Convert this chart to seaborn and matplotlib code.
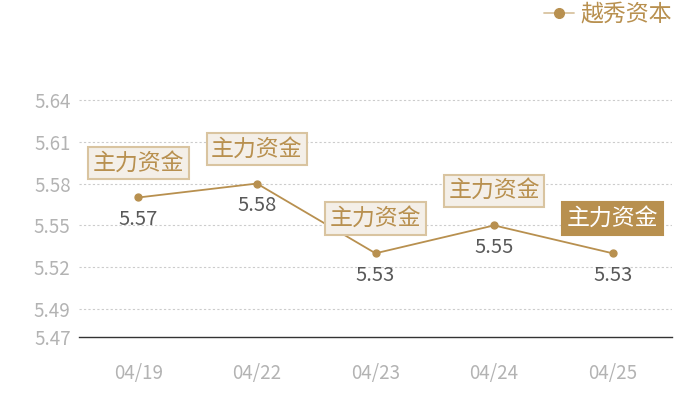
import pandas as pd
import matplotlib
matplotlib.use("Agg")
import matplotlib.pyplot as plt
import seaborn as sns

dates = ["04/19", "04/22", "04/23", "04/24", "04/25"]
prices = [5.57, 5.58, 5.53, 5.55, 5.53]
series_name = "越秀资本"
tag_text = "主力资金"
y_ticks = [5.47, 5.49, 5.52, 5.55, 5.58, 5.61, 5.64]

gold = "#b8904f"
grey_tick = "#b3b3b3"

sns.set_theme(style="white")
plt.rcParams["font.family"] = ["Noto Sans CJK SC", "DejaVu Sans"]

df = pd.DataFrame({"date": dates, "price": prices})

fig = plt.figure(figsize=(7, 4), dpi=100)
ax = fig.add_axes([79 / 700, 63 / 400, (672 - 79) / 700, (337 - 58) / 400])

sns.pointplot(data=df, x="date", y="price", color=gold, markers="o",
              linewidth=1.3, markersize=5, ax=ax, label=series_name)

ax.set_xlim(-0.5, 4.5)
ax.set_ylim(5.47, 5.67)
ax.set_yticks(y_ticks)
ax.set_yticklabels([f"{v:.2f}" for v in y_ticks])
for v in y_ticks[1:]:
    ax.axhline(v, color="#cccccc", linestyle=(0, (2, 2)), linewidth=0.8, zorder=0)

for s in ["top", "right", "left"]:
    ax.spines[s].set_visible(False)
ax.spines["bottom"].set_color("#333333")
ax.spines["bottom"].set_linewidth(1)
ax.tick_params(axis="both", length=0, colors=grey_tick, labelsize=13.5)
ax.tick_params(axis="x", pad=19)
ax.tick_params(axis="y", pad=6)
ax.set_xlabel("")
ax.set_ylabel("")

for i, v in enumerate(prices):
    ax.annotate(f"{v:.2f}", (i, v), xytext=(0, -16), textcoords="offset points",
                ha="center", va="center", fontsize=14.5, color="#595959")
    last = i == len(prices) - 1
    ax.annotate(tag_text, (i, v), xytext=(0, 25), textcoords="offset points",
                ha="center", va="center", fontsize=16.5,
                color="white" if last else gold,
                bbox=dict(boxstyle="square,pad=0.2",
                          fc=gold if last else "#f4efe8",
                          ec=gold if last else "#d9c4a0", lw=1.5),
                annotation_clip=False)

leg = ax.legend(loc="upper right", bbox_to_anchor=(1.035, 1.27), frameon=False,
                fontsize=16.5, labelcolor=gold, handlelength=1.3, handletextpad=0.3,
                markerscale=1.4)
for h in leg.get_lines():
    h.set_color("#d9c4a0")
    h.set_markerfacecolor(gold)
    h.set_markeredgecolor(gold)

fig.savefig("out.png", dpi=100)
